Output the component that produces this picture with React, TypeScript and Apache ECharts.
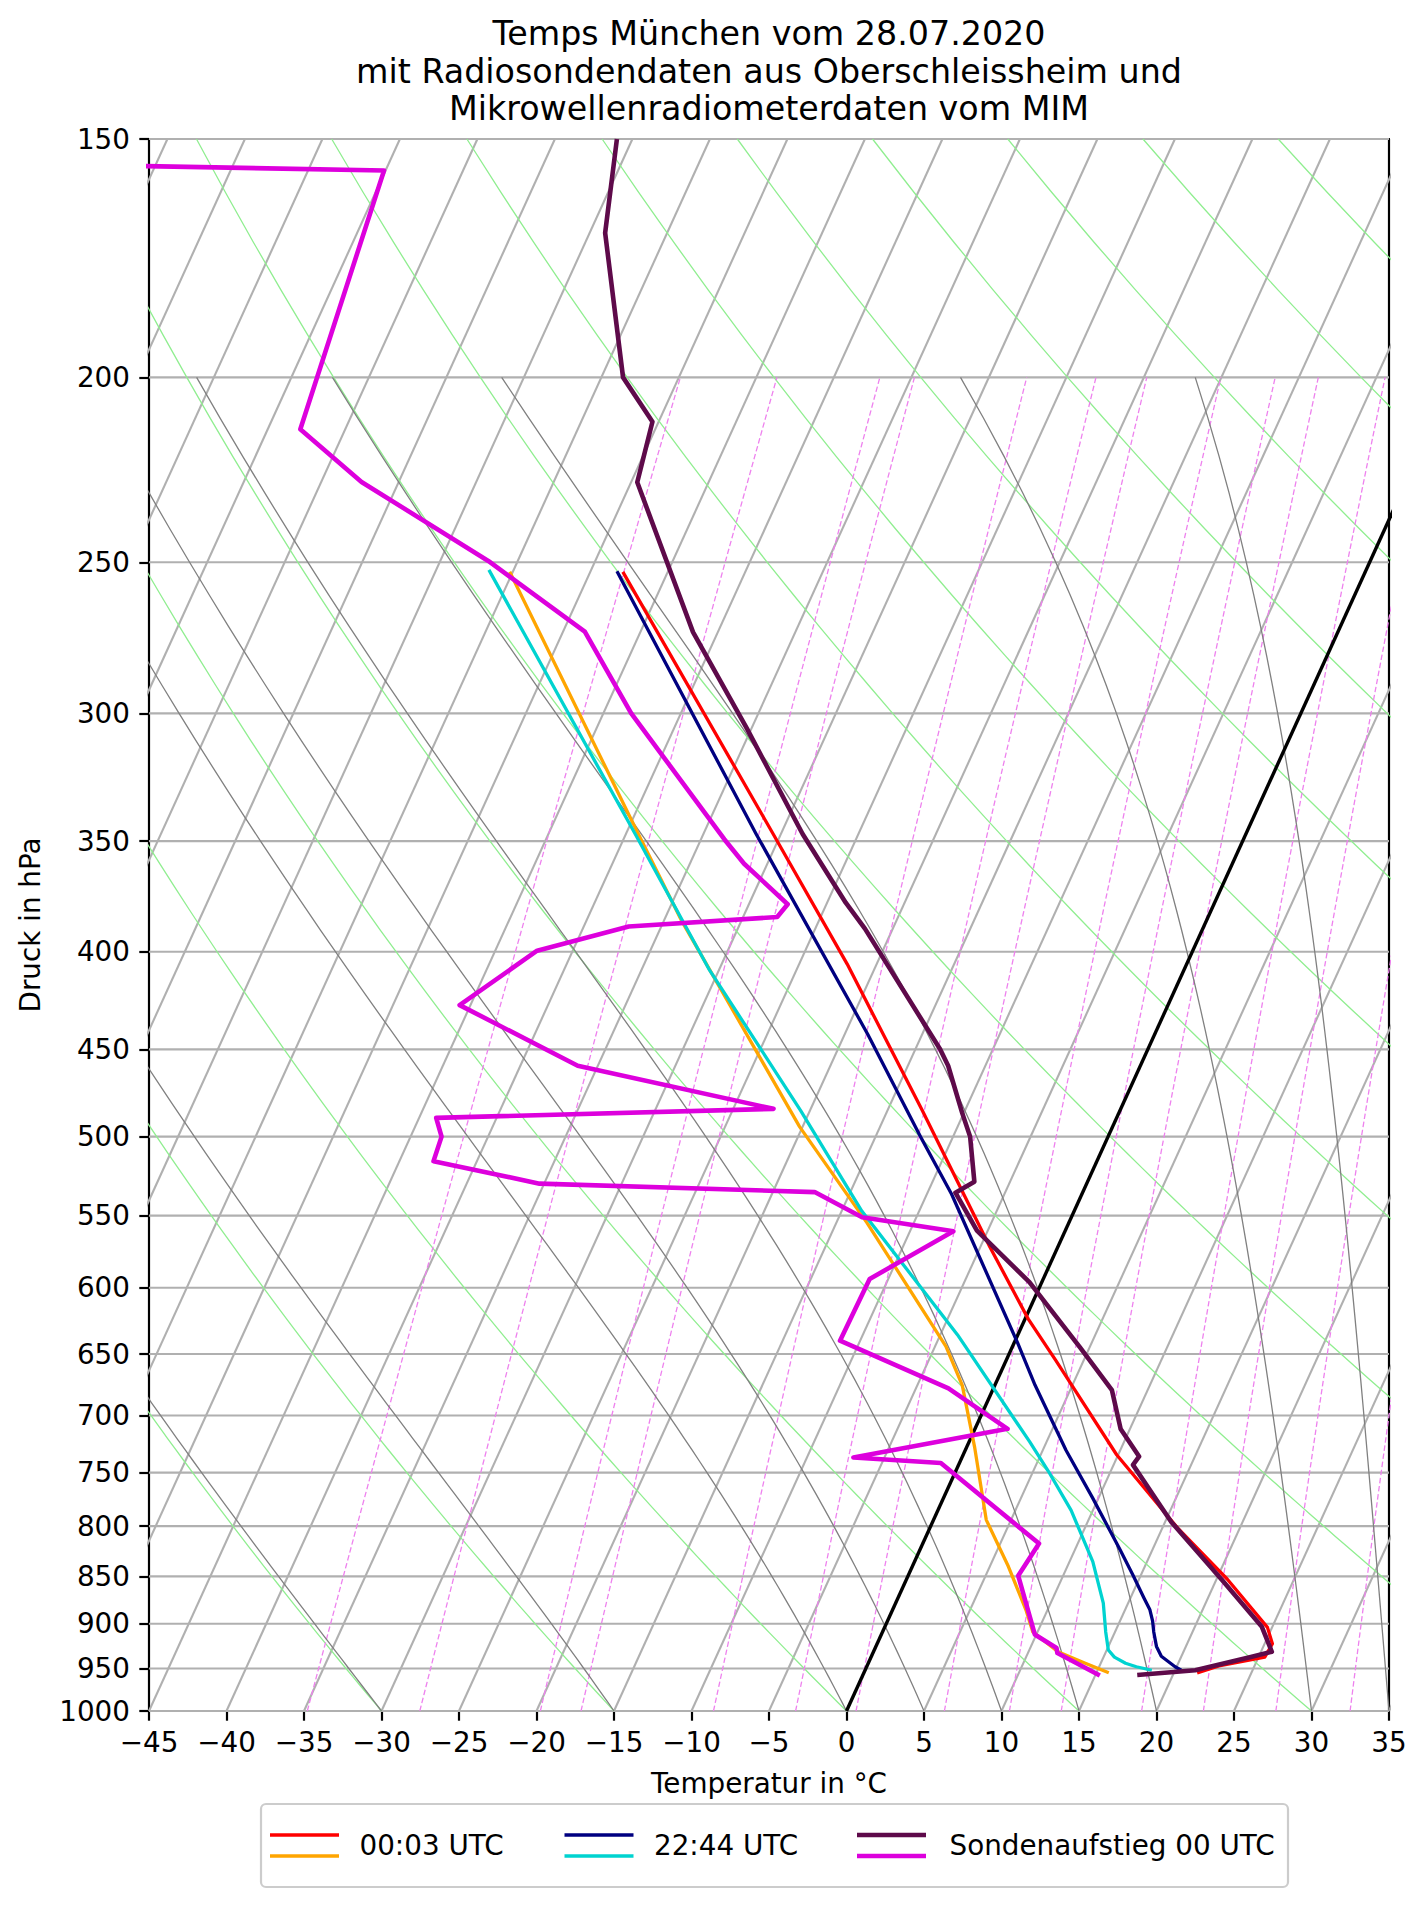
import React, { useEffect, useRef } from "react";
import * as echarts from "echarts";

// ---------- axis definitions ----------
const T_MIN = -45;
const T_MAX = 35;
const P_TOP = 150;
const P_BOTTOM = 1000;
const P_TICKS = [150, 200, 250, 300, 350, 400, 450, 500, 550, 600, 650, 700, 750, 800, 850, 900, 950, 1000];

// ---------- reference line families ----------
const ISOTHERM_STEP = 5;
const DRY_THETA_C = [-30, -15, 0, 15, 30, 45, 60, 75, 90, 105, 120, 135, 150, 165, 180];
const MOIST_T0_C = [-30, -15, 0, 5, 10, 15, 20, 30, 35];
const MIXING_G_KG = [0.2, 0.4, 0.8, 1, 2, 3, 4, 6, 8, 10, 14, 18, 24, 32];

// ---------- profiles (pressure hPa, temperature °C) ----------
// Mikrowellenradiometer 00:03 UTC
const R1_T_P = [252.9, 347, 406, 484, 571, 623, 655, 734, 802, 853, 904, 922, 937, 947, 955];
const R1_T = [-47.9, -30.5, -21.9, -12.8, -4.4, 0.2, 3.2, 9.9, 16.0, 20.7, 24.7, 25.5, 25.4, 22.7, 21.5];
const R1_TD_P = [252.9, 347, 385, 494, 555, 644, 675, 727, 794, 840, 885, 909, 931, 944, 955];
const R1_TD = [-55.2, -39.2, -33.9, -20.2, -13.0, -4.3, -2.1, 0.5, 3.4, 6.2, 8.6, 9.7, 11.9, 14.0, 15.8];
// Mikrowellenradiometer 22:44 UTC
const R2_T_P = [252.7, 347, 442, 500, 536, 641, 675, 730, 773, 823, 849, 873, 885, 897, 909, 925, 936, 942, 948, 952];
const R2_T = [-48.3, -31.6, -18.5, -12.1, -8.4, 0.2, 2.6, 6.5, 9.6, 12.9, 14.5, 15.9, 16.6, 17.1, 17.5, 18.1, 18.7, 19.3, 19.9, 20.4];
const R2_TD_P = [252.3, 347, 409, 484.5, 547, 635, 722.5, 749, 785, 835, 878, 909, 929, 937, 944, 948, 952];
const R2_TD = [-56.6, -39.4, -30.6, -20.6, -13.7, -3.9, 3.9, 6.0, 8.6, 11.5, 13.4, 14.4, 15.1, 15.7, 16.6, 17.4, 18.5];
// Sondenaufstieg 00 UTC
const S_T_P = [150, 168, 200, 211, 227, 272, 305.5, 347, 377, 389, 450, 459, 486, 500, 528, 535, 560, 596, 645, 679, 711.5, 735.5, 743, 796, 854, 903, 931, 937, 952, 957.5];
const S_T = [-61.0, -59.0, -53.6, -50.4, -49.6, -41.6, -35.3, -28.6, -23.8, -21.8, -13.4, -12.4, -10.1, -8.9, -7.3, -8.2, -5.7, -0.8, 4.4, 7.7, 9.4, 11.4, 11.25, 15.4, 20.4, 24.3, 25.7, 24.5, 21.3, 17.7];
const S_TD_P = [154.5, 155.8, 212.9, 226.9, 249.6, 271.8, 300, 349.2, 359.7, 377.7, 383.6, 388, 399.5, 426.6, 459, 483.5, 488.8, 500, 515, 529.2, 534.6, 551.1, 560.5, 593.7, 639.6, 677.5, 711.4, 736.5, 741.4, 817, 849.3, 911.8, 926.8, 932.4, 958.1];
const S_TD = [-100, -75.1, -72.9, -67.4, -56.9, -48.6, -43.2, -33.5, -31.5, -27.5, -27.8, -37.1, -42.3, -45.7, -36.3, -22.4, -43.9, -43.0, -42.8, -35.3, -17.3, -13.5, -7.2, -11.2, -11.3, -2.9, 2.1, -7.0, -1.2, 7.5, 7.1, 9.9, 11.7, 11.9, 15.3];

const LEGEND_LABELS = ["00:03 UTC", "22:44 UTC", "Sondenaufstieg 00 UTC"];
const COLORS = {
  r1t: "#ff0000",
  r1td: "#ffa500",
  r2t: "#000080",
  r2td: "#00d3d0",
  st: "#5e0a4a",
  std: "#dd00dd",
};

// ---------- skew-T transform ----------
const SKEW = (T_MAX - T_MIN) * Math.tan(Math.PI / 6);
const LNR = Math.log(P_BOTTOM / P_TOP);
const yf = (p: number) => Math.log(P_BOTTOM / p) / LNR;
const pt = (t: number, p: number) => [t + SKEW * yf(p), yf(p)];

// thermodynamic constants
const RD = 287.04749;
const LV = 2.50084e6;
const CPD = 1004.666;
const EPS = 0.621957;
const KAPPA = RD / CPD;
const esat = (tk: number) => 6.112 * Math.exp((17.67 * (tk - 273.15)) / (tk - 29.65));
const moistRate = (p: number, tk: number) => {
  const es = esat(tk);
  const rs = (EPS * es) / (p - es);
  return (RD * tk + LV * rs) / (CPD + (LV * LV * rs * EPS) / (RD * tk * tk)) / p;
};

function levels(top: number) {
  const out: number[] = [];
  for (let p = P_BOTTOM; p >= top - 1e-9; p -= 10) out.push(p);
  return out;
}

function moistAdiabat(t0: number) {
  let tk = t0 + 273.15;
  let p = P_BOTTOM;
  const out = [pt(t0, p)];
  const h = -2;
  while (p > 200 + 1e-6) {
    const k1 = moistRate(p, tk);
    const k2 = moistRate(p + h / 2, tk + (h / 2) * k1);
    const k3 = moistRate(p + h / 2, tk + (h / 2) * k2);
    const k4 = moistRate(p + h, tk + h * k3);
    tk += (h / 6) * (k1 + 2 * k2 + 2 * k3 + k4);
    p += h;
    if (Math.round(p) % 10 === 0) out.push(pt(tk - 273.15, Math.round(p)));
  }
  return out;
}

const FONT = "DejaVu Sans";
const GRID_COLOR = "#b0b0b0";
const W_RADIO = 3.3;
const W_SONDE = 4.6;

function buildOption() {
  const series: any[] = [];
  const add = (data: number[][], color: string, width: number, z: number, dash?: number[]) => {
    series.push({
      type: "line",
      data,
      showSymbol: false,
      symbol: "none",
      silent: true,
      clip: true,
      z,
      emphasis: { disabled: true },
      lineStyle: { color, width, type: dash ? dash : "solid", cap: "butt", join: "round" },
    });
  };

  // isotherms (skewed grid)
  for (let t = -90; t <= T_MAX; t += ISOTHERM_STEP) {
    add([[t, 0], [t + SKEW, 1]], GRID_COLOR, 2.1, 1);
  }
  // isobars
  P_TICKS.forEach((p) => add([[T_MIN, yf(p)], [T_MAX, yf(p)]], GRID_COLOR, 2.1, 1));

  // dry adiabats
  const pFull = levels(P_TOP);
  DRY_THETA_C.forEach((th) => {
    add(pFull.map((p) => pt((th + 273.15) * Math.pow(p / 1000, KAPPA) - 273.15, p)), "#90ee90", 1.3, 2);
  });
  // mixing ratio lines
  const pMix = levels(200);
  MIXING_G_KG.forEach((wg) => {
    const w = wg / 1000;
    add(
      pMix.map((p) => {
        const e = (p * w) / (EPS + w);
        const l = Math.log(e / 6.112);
        return pt((243.5 * l) / (17.67 - l), p);
      }),
      "#ee82ee",
      1.3,
      2,
      [5.5, 2.7]
    );
  });
  // moist adiabats
  MOIST_T0_C.forEach((t0) => add(moistAdiabat(t0), "#808080", 1.3, 3));

  // 0 °C isotherm
  add([pt(0, P_BOTTOM), pt(0, P_TOP)], "#000000", 3.4, 4);

  // profiles
  const prof = (ps: number[], ts: number[]) => ps.map((p, i) => pt(ts[i], p));
  add(prof(R1_T_P, R1_T), COLORS.r1t, W_RADIO, 10);
  add(prof(R1_TD_P, R1_TD), COLORS.r1td, W_RADIO, 10);
  add(prof(R2_T_P, R2_T), COLORS.r2t, W_RADIO, 10);
  add(prof(R2_TD_P, R2_TD), COLORS.r2td, W_RADIO, 10);
  add(prof(S_T_P, S_T), COLORS.st, W_SONDE, 11);
  add(prof(S_TD_P, S_TD), COLORS.std, W_SONDE, 11);

  const tickVals = P_TICKS.map(yf);
  const pLabel = (v: number) => {
    let best = 0;
    tickVals.forEach((tv, i) => {
      if (Math.abs(tv - v) < Math.abs(tickVals[best] - v)) best = i;
    });
    return String(P_TICKS[best]);
  };
  const axisLineStyle = { color: "#000", width: 2.2 };
  const textBase = { fontFamily: FONT, fontSize: 27.8, color: "#000" };

  // legend drawn as graphic (two handles per entry)
  const legendCols = [
    { hx: 270, lx: 359.5, c1: COLORS.r1t, c2: COLORS.r1td, w: W_RADIO },
    { hx: 564.5, lx: 654, c1: COLORS.r2t, c2: COLORS.r2td, w: W_RADIO },
    { hx: 857, lx: 949.5, c1: COLORS.st, c2: COLORS.std, w: W_SONDE },
  ];
  const graphics: any[] = [
    {
      type: "rect",
      shape: { x: 261, y: 1804, width: 1027, height: 83, r: 5 },
      style: { fill: "#ffffff", stroke: "#cccccc", lineWidth: 2.2 },
      z: 100,
    },
  ];
  legendCols.forEach((c, i) => {
    graphics.push({ type: "line", shape: { x1: c.hx, y1: 1835, x2: c.hx + 69, y2: 1835 }, style: { stroke: c.c1, lineWidth: c.w }, z: 101 });
    graphics.push({ type: "line", shape: { x1: c.hx, y1: 1856, x2: c.hx + 69, y2: 1856 }, style: { stroke: c.c2, lineWidth: c.w }, z: 101 });
    graphics.push({
      type: "text",
      x: c.lx,
      y: 1845,
      z: 101,
      style: {
        text: LEGEND_LABELS[i],
        fontFamily: FONT,
        fontSize: 27.8,
        fill: "#000",
        align: "left",
        verticalAlign: "middle",
        textAlign: "left",
        textVerticalAlign: "middle",
      },
    });
  });
  const TITLE_LINES = [
    "Temps München vom 28.07.2020",
    "mit Radiosondendaten aus Oberschleissheim und",
    "Mikrowellenradiometerdaten vom MIM",
  ];
  const TITLE_Y = [33, 71.3, 108.7];
  TITLE_LINES.forEach((t, i) => {
    graphics.push({
      type: "text",
      x: 769,
      y: TITLE_Y[i],
      z: 101,
      style: {
        text: t,
        fontFamily: FONT,
        fontSize: 33.3,
        fill: "#000",
        align: "center",
        verticalAlign: "middle",
        textAlign: "center",
        textVerticalAlign: "middle",
      },
    });
  });

  return {
    animation: false,
    backgroundColor: "#ffffff",
    grid: { left: 149, top: 139, width: 1240, height: 1572, containLabel: false },
    xAxis: [
      {
        type: "value",
        min: T_MIN,
        max: T_MAX,
        interval: 5,
        position: "bottom",
        axisLine: { show: true, onZero: false, lineStyle: axisLineStyle },
        axisTick: { show: true, length: 9.7, lineStyle: axisLineStyle },
        axisLabel: {
          ...textBase,
          margin: 17,
          formatter: (v: number) => (v < 0 ? "\u2212" + Math.abs(v) : String(v)),
        },
        splitLine: { show: false },
        name: "Temperatur in °C",
        nameLocation: "middle",
        nameGap: 58,
        nameTextStyle: { ...textBase },
      },
      {
        type: "value",
        min: T_MIN,
        max: T_MAX,
        position: "top",
        axisLine: { show: true, onZero: false, lineStyle: axisLineStyle },
        axisTick: { show: false },
        axisLabel: { show: false },
        splitLine: { show: false },
      },
    ],
    yAxis: [
      {
        type: "value",
        min: 0,
        max: 1,
        position: "left",
        axisLine: { show: true, onZero: false, lineStyle: axisLineStyle },
        axisTick: { show: true, length: 9.7, lineStyle: axisLineStyle, customValues: tickVals },
        axisLabel: { ...textBase, margin: 19, customValues: tickVals, formatter: (v: number) => pLabel(v) },
        splitLine: { show: false },
        name: "Druck in hPa",
        nameLocation: "middle",
        nameGap: 105,
        nameRotate: 90,
        nameTextStyle: { ...textBase },
      },
      {
        type: "value",
        min: 0,
        max: 1,
        position: "right",
        axisLine: { show: true, onZero: false, lineStyle: axisLineStyle },
        axisTick: { show: false },
        axisLabel: { show: false },
        splitLine: { show: false },
      },
    ],
    series,
    graphic: graphics,
  };
}

export default function App() {
  const ref = useRef<HTMLDivElement>(null);
  useEffect(() => {
    if (!ref.current) return;
    const chart = echarts.init(ref.current, null, { renderer: "svg" });
    chart.setOption(buildOption() as any);
    return () => chart.dispose();
  }, []);
  return <div ref={ref} style={{ position: "absolute", left: 0, top: 0, width: 1427, height: 1907, background: "#fff" }} />;
}
